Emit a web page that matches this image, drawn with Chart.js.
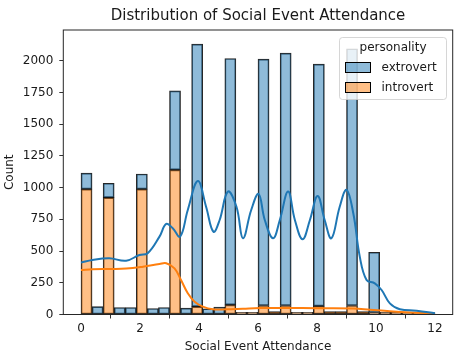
<!DOCTYPE html>
<html>
<head>
<meta charset="utf-8">
<script src="https://cdn.jsdelivr.net/npm/chart.js@4"></script>
<style>
  html, body { margin: 0; padding: 0; background: #fff; }
  #wrap { width: 467px; height: 363px; position: relative; }
</style>
</head>
<body>
<div id="wrap"><canvas id="c" width="467" height="363"></canvas></div>
<script>
// ---- data ----
const binWidth = 0.375;
const binStarts = [0, 0.375, 0.75, 1.125, 1.5, 1.875, 2.25, 2.625, 3.0, 3.375, 3.75, 4.125, 4.5, 4.875, 5.25, 5.625,
                   6.0, 6.375, 6.75, 7.125, 7.5, 7.875, 8.25, 8.625, 9.0, 9.375, 9.75, 10.125, 10.5, 10.875, 11.25, 11.625];
const introvertCounts = [988, 0, 922, 0, 0, 988, 0, 0, 1140, 0, 62, 0, 0, 76, 18, 18,
                         71, 24, 71, 18, 18, 66, 24, 24, 71, 24, 16, 18, 18, 16, 16, 13];
const extrovertCounts = [126, 62, 113, 55, 55, 120, 47, 55, 623, 50, 2070, 45, 58, 1942, 0, 0,
                         1942, 0, 1990, 0, 0, 1908, 0, 0, 2024, 0, 475, 0, 0, 0, 0, 0];
const kdeExtroX = [0, 0.39, 0.96, 1.53, 1.98, 2.26, 2.66, 2.89, 3.11, 3.36, 3.62, 3.96, 4.24, 4.49, 4.70, 4.98, 5.27, 5.49, 5.77,
                   6.02, 6.23, 6.51, 6.74, 7.02, 7.25, 7.51, 7.76, 8.02, 8.26, 8.49, 8.77, 9.0, 9.23, 9.45, 9.68, 9.96, 10.19, 10.47, 10.81, 11.38, 12];
const kdeExtroY = [409, 430, 443, 424, 469, 483, 614, 714, 680, 614, 824, 1052, 850, 653, 745, 969, 850, 601, 824,
                   950, 745, 601, 745, 969, 745, 593, 745, 935, 745, 601, 850, 982, 798, 456, 272, 246, 193, 88, 41, 30, 9];
const kdeIntroX = [0, 0.39, 0.96, 1.53, 2.1, 2.66, 2.89, 3.17, 3.39, 3.62, 3.85, 4.13, 4.47, 4.92, 5.49, 6.06, 7, 8, 9.23, 9.8, 10.47, 11.2, 12];
const kdeIntroY = [351, 356, 359, 362, 377, 398, 404, 364, 272, 167, 101, 62, 41, 41, 46, 51, 52, 50, 48, 38, 26, 16, 8];
const xTicks = [0, 2, 4, 6, 8, 10, 12];
const yTicks = [0, 250, 500, 750, 1000, 1250, 1500, 1750, 2000];
const chartTitle = 'Distribution of Social Event Attendance';
const legendTitle = 'personality';
const legendLabels = ['extrovert', 'introvert'];

// ---- styling ----
const BLUE = '#1f77b4', ORANGE = '#ff7f0e';
const BLUE_FILL = 'rgba(31,119,180,0.5)', ORANGE_FILL = 'rgba(255,127,14,0.5)';
const FONT = 'DejaVu Sans';
const TXT = '#1a1a1a';

const centers = binStarts.map(s => s + binWidth / 2);
const introBars = centers.map((x, i) => ({ x, y: introvertCounts[i] > 0 ? introvertCounts[i] : null }));
const extroBars = centers.map((x, i) => ({ x, y: extrovertCounts[i] > 0 ? extrovertCounts[i] : null }));
const extroLine = kdeExtroX.map((x, i) => ({ x, y: kdeExtroY[i] }));
const introLine = kdeIntroX.map((x, i) => ({ x, y: kdeIntroY[i] }));

const boxPlugin = {
  id: 'boxAndLegend',
  afterDatasetsDraw(chart) {
    const { ctx, chartArea: a } = chart;
    ctx.save();
    ctx.strokeStyle = '#262626';
    ctx.lineWidth = 1;
    ctx.strokeRect(a.left, a.top, a.right - a.left, a.bottom - a.top);
    ctx.restore();
  },
  afterDraw(chart) {
    const { ctx, chartArea: a } = chart;
    ctx.save();
    // title
    ctx.fillStyle = TXT;
    ctx.font = '15px "' + FONT + '"';
    ctx.textAlign = 'center';
    ctx.textBaseline = 'middle';
    ctx.fillText(chartTitle, (a.left + a.right) / 2, 16);
    // legend
    const bx = 339.5, by = 37.5, bw = 107, bh = 62, r = 3;
    ctx.beginPath();
    ctx.moveTo(bx + r, by);
    ctx.arcTo(bx + bw, by, bx + bw, by + bh, r);
    ctx.arcTo(bx + bw, by + bh, bx, by + bh, r);
    ctx.arcTo(bx, by + bh, bx, by, r);
    ctx.arcTo(bx, by, bx + bw, by, r);
    ctx.closePath();
    ctx.fillStyle = 'rgba(255,255,255,0.8)';
    ctx.fill();
    ctx.strokeStyle = 'rgba(204,204,204,0.8)';
    ctx.lineWidth = 1;
    ctx.stroke();
    ctx.fillStyle = TXT;
    ctx.font = '12px "' + FONT + '"';
    ctx.fillText(legendTitle, bx + bw / 2, 47.5);
    const fills = [BLUE_FILL, ORANGE_FILL];
    const ys = [62, 82];
    ctx.textAlign = 'left';
    for (let i = 0; i < 2; i++) {
      ctx.fillStyle = fills[i];
      ctx.fillRect(345.5, ys[i] + 0.5, 25, 10);
      ctx.strokeStyle = '#000';
      ctx.strokeRect(345.5, ys[i] + 0.5, 25, 10);
      ctx.fillStyle = TXT;
      ctx.fillText(legendLabels[i], 381.5, ys[i] + 5.5);
    }
    ctx.restore();
  }
};

new Chart(document.getElementById('c'), {
  data: {
    datasets: [
      { type: 'line', label: 'extrovert kde', data: extroLine, borderColor: BLUE, borderWidth: 2,
        pointRadius: 0, tension: 0.4, fill: false, stack: 'kdeE', order: 0 },
      { type: 'line', label: 'introvert kde', data: introLine, borderColor: ORANGE, borderWidth: 2,
        pointRadius: 0, tension: 0.4, fill: false, stack: 'kdeI', order: 1 },
      { type: 'bar', label: 'introvert', data: introBars, backgroundColor: ORANGE_FILL, borderColor: 'rgba(0,0,0,0.85)',
        borderWidth: 1, borderSkipped: false, barPercentage: 1, categoryPercentage: 1, stack: 'hist', order: 2 },
      { type: 'bar', label: 'extrovert', data: extroBars, backgroundColor: BLUE_FILL, borderColor: 'rgba(0,0,0,0.85)',
        borderWidth: 1, borderSkipped: false, barPercentage: 1, categoryPercentage: 1, stack: 'hist', order: 3 }
    ]
  },
  options: {
    responsive: false,
    animation: false,
    layout: { padding: { left: 0, right: 14.3, top: 30, bottom: 0 } },
    plugins: {
      legend: { display: false },
      tooltip: { enabled: false },
      title: { display: false }
    },
    scales: {
      x: {
        type: 'linear', min: -0.6, max: 12.6, offset: false, stacked: true,
        afterBuildTicks: s => { s.ticks = xTicks.map(v => ({ value: v })); },
        afterFit: s => { s.height = 48.5; },
        ticks: { color: TXT, font: { family: FONT, size: 12 }, padding: 3, maxRotation: 0, callback: v => String(v) },
        grid: { display: true, drawOnChartArea: false, drawTicks: true, tickLength: 4, color: '#333' },
        border: { display: false },
        title: { display: true, text: 'Social Event Attendance', color: TXT, font: { family: FONT, size: 12 }, padding: { top: 0, bottom: 8.5 } }
      },
      y: {
        type: 'linear', min: 0, max: 2243, stacked: true,
        afterBuildTicks: s => { s.ticks = yTicks.map(v => ({ value: v })); },
        afterFit: s => { s.width = 63.3; },
        ticks: { color: TXT, font: { family: FONT, size: 12 }, padding: 6, callback: v => String(v) },
        grid: { display: true, drawOnChartArea: false, drawTicks: true, tickLength: 4, color: '#333' },
        border: { display: false },
        title: { display: true, text: 'Count', color: TXT, font: { family: FONT, size: 12 }, padding: { top: 2.8, bottom: 0 } }
      }
    }
  },
  plugins: [boxPlugin]
});
</script>
</body>
</html>
